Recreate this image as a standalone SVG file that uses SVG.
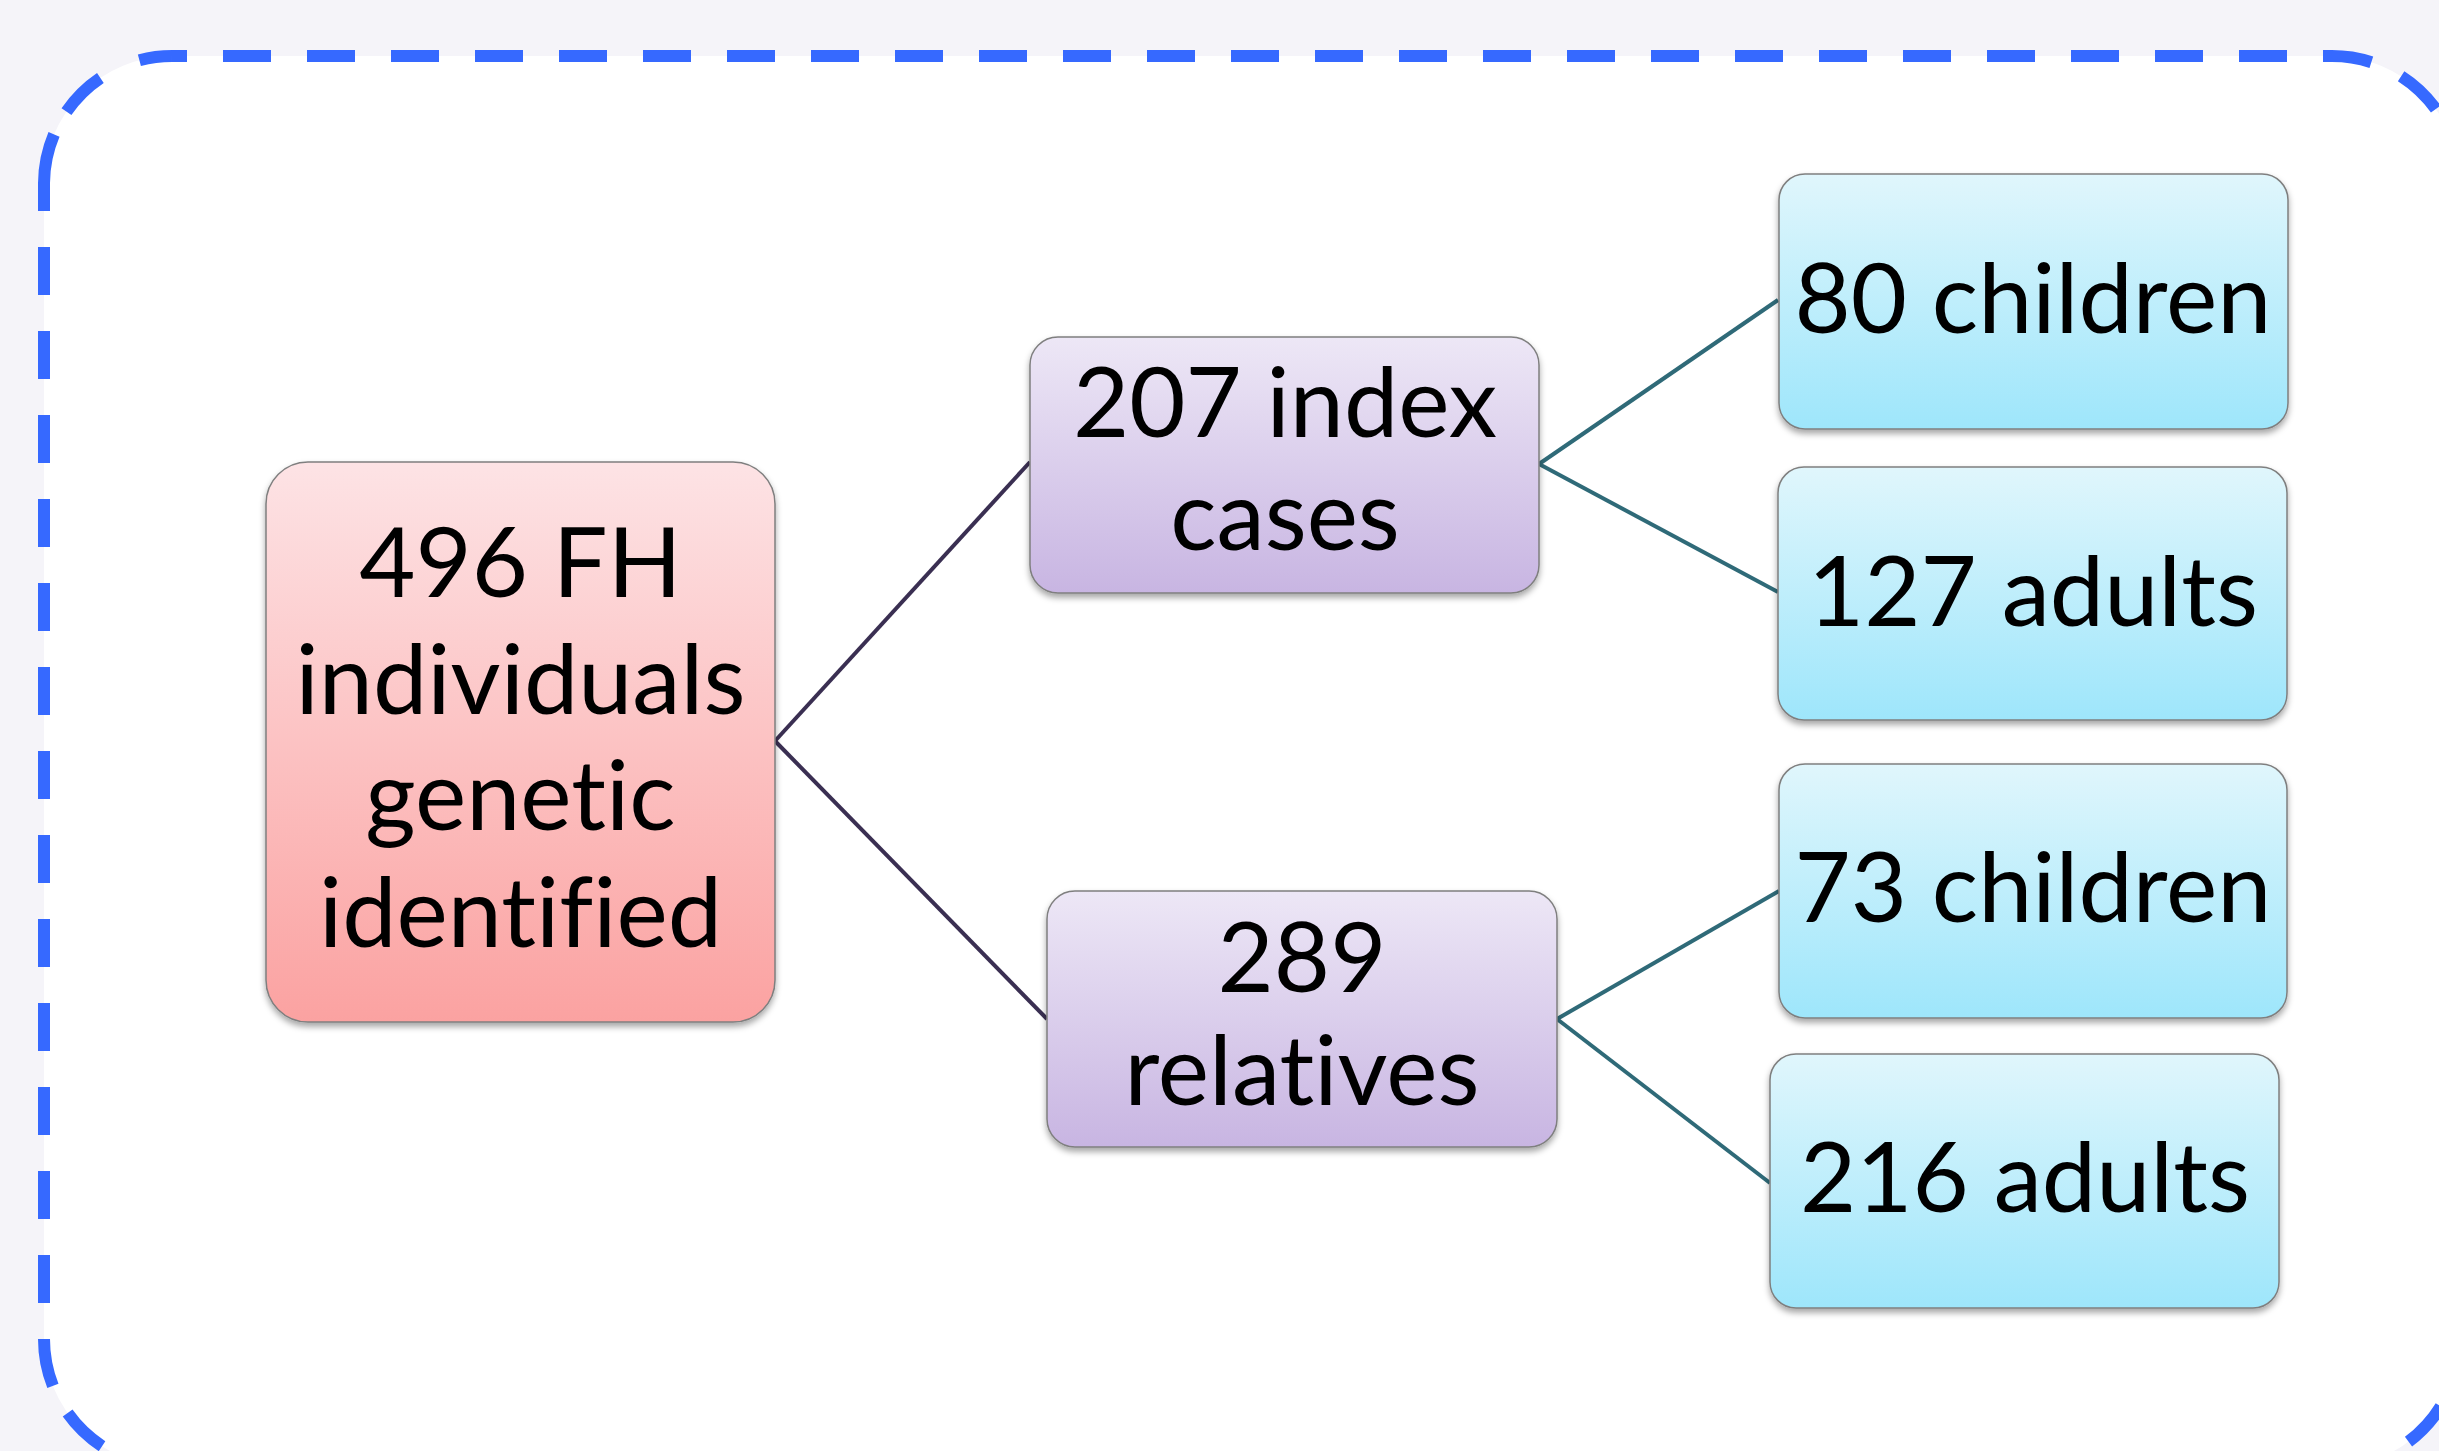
<svg xmlns="http://www.w3.org/2000/svg" width="2439" height="1451" viewBox="0 0 2439 1451">
<style>
.frame{fill:none;stroke:#3669ff;stroke-width:12;stroke-dasharray:48 36}
.box{stroke:#7f7f7f;stroke-width:1.5;filter:url(#sh)}
.lbl{font-family:Lato,"Noto Sans",sans-serif;font-size:97px;fill:#000;text-anchor:middle;font-variant-ligatures:none;font-feature-settings:"liga" 0,"clig" 0}
.c1{stroke:#3a2f52;stroke-width:4;fill:none}
.c2{stroke:#2f6a78;stroke-width:4;fill:none}
</style>
<defs>
<linearGradient id="gPink" x1="0" y1="0" x2="0" y2="1"><stop offset="0" stop-color="#fde3e5"/><stop offset="1" stop-color="#fba2a1"/></linearGradient>
<linearGradient id="gPurple" x1="0" y1="0" x2="0" y2="1"><stop offset="0" stop-color="#ede7f6"/><stop offset="1" stop-color="#c8b5e2"/></linearGradient>
<linearGradient id="gBlue" x1="0" y1="0" x2="0" y2="1"><stop offset="0" stop-color="#e0f6fc"/><stop offset="1" stop-color="#9ee6fb"/></linearGradient>
<filter id="sh" x="-10%" y="-10%" width="120%" height="130%"><feDropShadow dx="0" dy="4" stdDeviation="3" flood-color="#000" flood-opacity="0.35"/></filter>
</defs>
<rect x="0" y="0" width="2439" height="1451" fill="#f5f4f9"/>
<g id="frame">
<rect x="44" y="56" width="2416" height="1411" rx="128" ry="128" fill="#ffffff"/>
<path class="frame" d="M172,56 H2332" stroke-dashoffset="33"/>
<path class="frame" d="M44,183 A128,128 0 0 1 172,56" style="stroke-dasharray:50 26 48 43 34"/>
<path class="frame" d="M44,183 V1339" stroke-dashoffset="20"/>
<path class="frame" d="M44,1339 A128,128 0 0 0 172,1467" style="stroke-dasharray:48 31 48 36 48 36"/>
<path class="frame" d="M2332,56 A128,128 0 0 1 2460,184" style="stroke-dasharray:40 33 48 36 48"/>
<path class="frame" d="M2460,184 V1339"/>
<path class="frame" d="M2460,1339 A128,128 0 0 1 2332,1467" style="stroke-dasharray:0 71 48 40 48 36"/>
<path class="frame" d="M2332,1467 H172"/>
</g>
<g id="connectors">
<line class="c1" x1="775" y1="741" x2="1030" y2="462"/>
<line class="c1" x1="775" y1="741" x2="1047" y2="1019"/>
<line class="c2" x1="1539" y1="464" x2="1778" y2="300"/>
<line class="c2" x1="1539" y1="464" x2="1778" y2="592"/>
<line class="c2" x1="1557" y1="1019" x2="1779" y2="891"/>
<line class="c2" x1="1557" y1="1019" x2="1770" y2="1183"/>
</g>
<g id="n-root">
<rect class="box" x="266" y="462" width="509" height="560" rx="42" fill="url(#gPink)"/>
<text class="lbl" x="520.5" y="597">496 FH</text>
<text class="lbl" x="520.5" y="714">individuals</text>
<text class="lbl" x="520.5" y="830">genetic</text>
<text class="lbl" x="520.5" y="947">identified</text>
</g>
<g id="n-index">
<rect class="box" x="1030" y="337" width="509" height="256" rx="28" fill="url(#gPurple)"/>
<text class="lbl" x="1285" y="437">207 index</text>
<text class="lbl" x="1285" y="550">cases</text>
</g>
<g id="n-relatives">
<rect class="box" x="1047" y="891" width="510" height="256" rx="28" fill="url(#gPurple)"/>
<text class="lbl" x="1302" y="992">289</text>
<text class="lbl" x="1302" y="1105">relatives</text>
</g>
<g id="n-idx-children">
<rect class="box" x="1779" y="174" width="509" height="255" rx="26" fill="url(#gBlue)"/>
<text class="lbl" x="2033" y="333">80 children</text>
</g>
<g id="n-idx-adults">
<rect class="box" x="1778" y="467" width="509" height="253" rx="26" fill="url(#gBlue)"/>
<text class="lbl" x="2033" y="626">127 adults</text>
</g>
<g id="n-rel-children">
<rect class="box" x="1779" y="764" width="508" height="254" rx="26" fill="url(#gBlue)"/>
<text class="lbl" x="2033" y="922">73 children</text>
</g>
<g id="n-rel-adults">
<rect class="box" x="1770" y="1054" width="509" height="254" rx="26" fill="url(#gBlue)"/>
<text class="lbl" x="2025" y="1212">216 adults</text>
</g>
</svg>
